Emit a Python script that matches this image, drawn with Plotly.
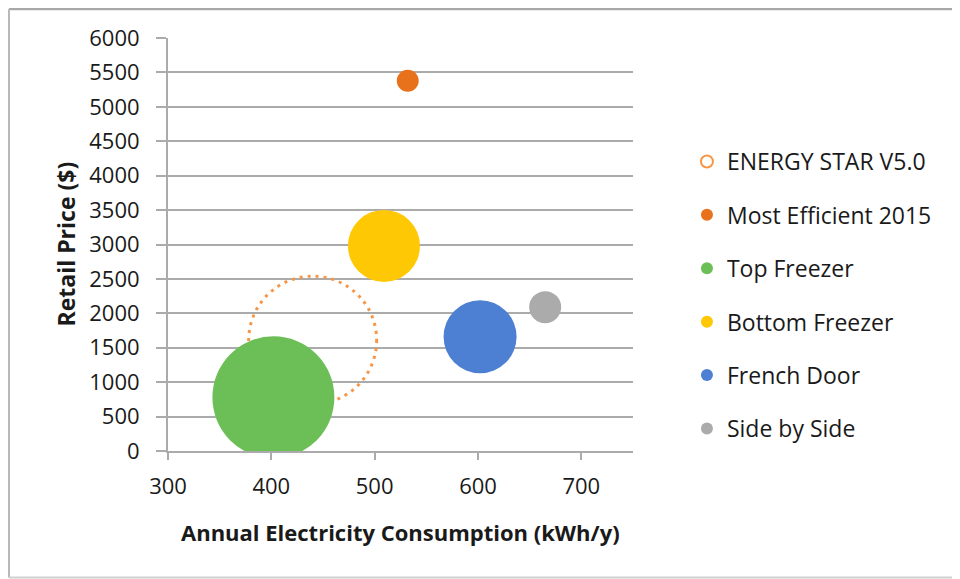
import plotly.graph_objects as go

# ---- data ----
series_names = ["ENERGY STAR V5.0", "Most Efficient 2015", "Top Freezer",
                "Bottom Freezer", "French Door", "Side by Side"]
consumption_kwh = [440, 532, 402, 509, 602, 665]
retail_price = [1610, 5380, 780, 2980, 1660, 2090]
bubble_size = [102.4, 3.0, 93.0, 32.4, 33.3, 6.4]   # relative bubble areas
colors = ["#F79646", "#E8711C", "#6CBF57", "#FFC805", "#4D7FD3", "#ABABAB"]

x_ticks = [300, 400, 500, 600, 700]
y_ticks = list(range(0, 6001, 500))

SIZEREF = 1 / 80.0   # plotly area mode: diameter = 2*sqrt(size / (2*sizeref))
FONT = "Open Sans"
TXT = "#1a1a1a"

fig = go.Figure()

# ENERGY STAR reference drawn as dotted outline (shape), legend entry via empty trace
fig.add_trace(go.Scatter(
    x=[None], y=[None], mode="markers", name=series_names[0],
    legendgroup="g0",
    marker=dict(symbol="circle-open", size=11, color=colors[0],
                line=dict(width=3, color=colors[0])),
))
es_diam = 2 * (bubble_size[0] / (2 * SIZEREF)) ** 0.5
fig.add_shape(
    type="circle", xref="x", yref="y",
    xsizemode="pixel", ysizemode="pixel",
    xanchor=consumption_kwh[0], yanchor=retail_price[0],
    x0=-es_diam / 2, x1=es_diam / 2, y0=-es_diam / 2, y1=es_diam / 2,
    line=dict(color=colors[0], width=3, dash="3px,5px"),
    fillcolor="rgba(0,0,0,0)", layer="between",
)

for i in range(1, len(series_names)):
    fig.add_trace(go.Scatter(
        x=[consumption_kwh[i]], y=[retail_price[i]], mode="markers",
        name=series_names[i], legendgroup=f"g{i}",
        marker=dict(size=[bubble_size[i]], sizemode="area", sizeref=SIZEREF,
                    color=colors[i], opacity=1, line=dict(width=0)),
        cliponaxis=True,
    ))

# outer chart frame (top, left, bottom edges; right edge is outside the view)
FL, FR, FB, FT = -0.342, 1.7, -0.3063, 1.0702
fig.add_shape(type="line", xref="paper", yref="paper", x0=FL, x1=FR, y0=FT, y1=FT,
              line=dict(color="#a8a8a8", width=2.5), layer="below")
fig.add_shape(type="line", xref="paper", yref="paper", x0=FL, x1=FL, y0=FB, y1=FT,
              line=dict(color="#b8b8b8", width=2), layer="below")
fig.add_shape(type="line", xref="paper", yref="paper", x0=FL, x1=FR, y0=FB, y1=FB,
              line=dict(color="#cfcfcf", width=2), layer="below")

grid = "#ababab"
fig.update_layout(
    width=960, height=579,
    margin=dict(l=160, r=335, t=30, b=136, autoexpand=False),
    paper_bgcolor="white", plot_bgcolor="white",
    font=dict(family=FONT, size=22, color=TXT),
    showlegend=True,
    legend=dict(x=1.116, y=0.753, xanchor="left", yanchor="top",
                traceorder="grouped", tracegroupgap=20.5, itemsizing="constant",
                font=dict(family=FONT, size=23, color=TXT),
                bgcolor="rgba(0,0,0,0)"),
    xaxis=dict(range=[300, 750], tickvals=x_ticks, ticktext=[str(v) for v in x_ticks],
               showgrid=False, zeroline=False, showline=True, linecolor=grid,
               linewidth=2, ticks="outside", ticklen=7, tickwidth=2, tickcolor=grid,
               ticklabelstandoff=8, tickfont=dict(size=22)),
    yaxis=dict(range=[0, 6000], tickvals=y_ticks, ticktext=[str(v) for v in y_ticks],
               showgrid=True, gridcolor=grid, gridwidth=2, zeroline=False,
               showline=True, linecolor=grid, linewidth=2, ticks="outside",
               ticklen=10, tickwidth=2, tickcolor=grid,
               ticklabelstandoff=12, tickfont=dict(size=22)),
    annotations=[
        dict(text="<b>Annual Electricity Consumption (kWh/y)</b>", xref="paper", yref="paper",
             x=0.499, y=-0.196, showarrow=False, xanchor="center", yanchor="middle",
             font=dict(family=FONT, size=22, color=TXT)),
        dict(text="<b>Retail Price ($)</b>", xref="paper", yref="paper",
             x=-0.2215, y=0.5, showarrow=False, textangle=-90,
             xanchor="center", yanchor="middle",
             font=dict(family=FONT, size=23, color=TXT)),
    ],
)

fig.write_html("out.html")
